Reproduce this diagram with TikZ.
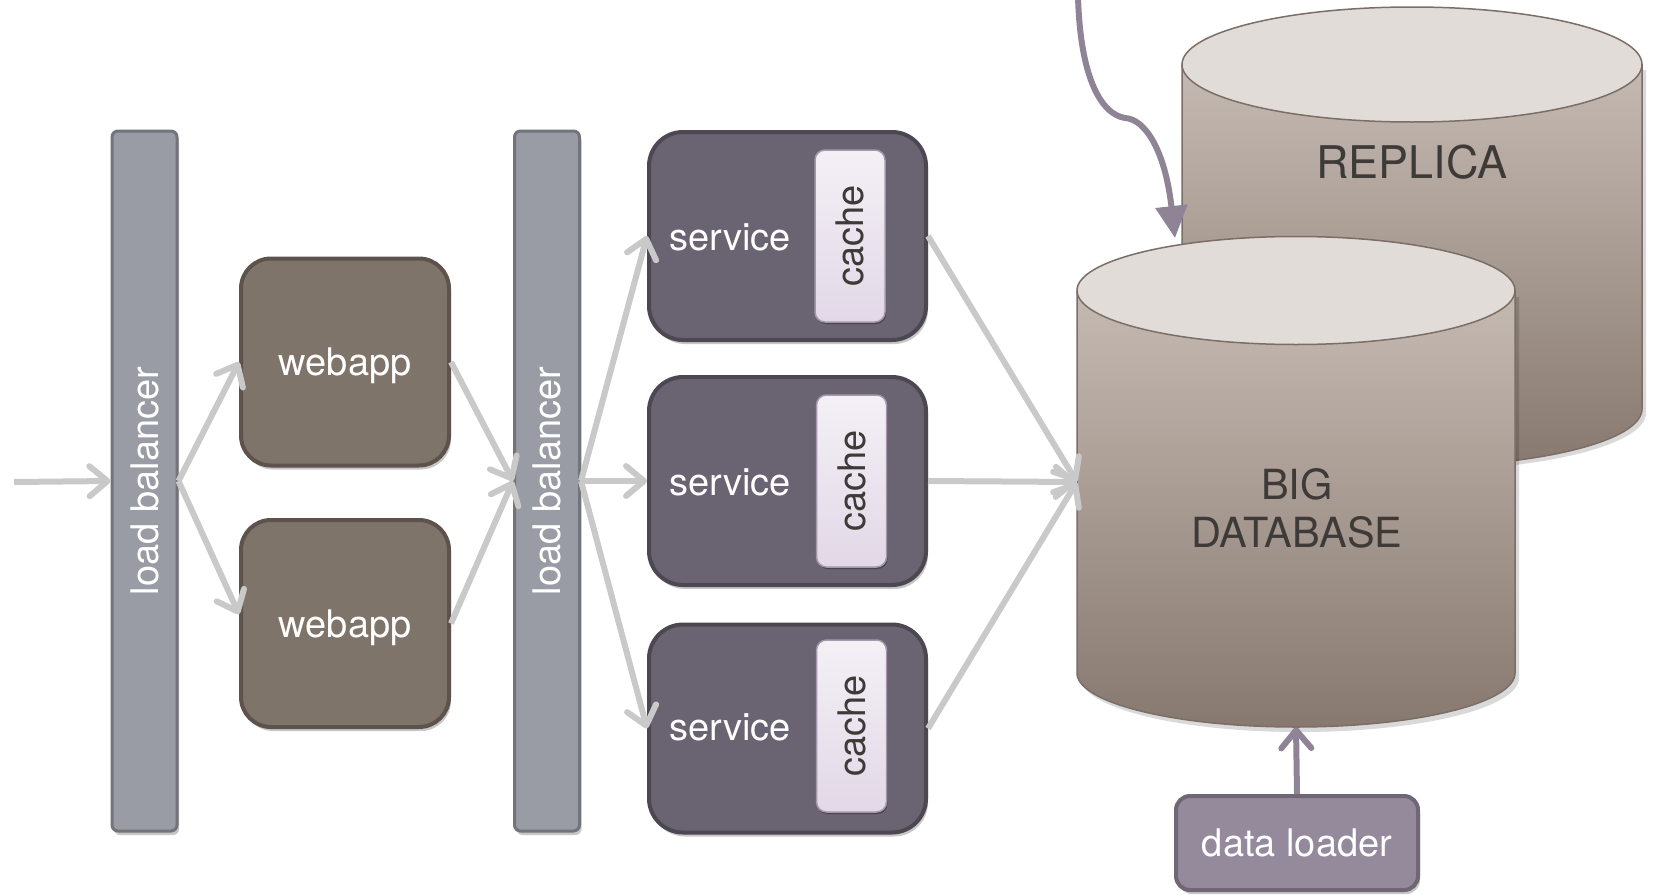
\documentclass[tikz,border=0pt]{standalone}
\usepackage{fontspec}
\setmainfont{TeX Gyre Heros}
\usepackage{graphicx}
\usetikzlibrary{arrows.meta,shadows}
\definecolor{agrey}{HTML}{C9C9C9}
\definecolor{apurple}{HTML}{8E8496}
\definecolor{lbfill}{HTML}{999CA4}
\definecolor{lbborder}{HTML}{727479}
\definecolor{wafill}{HTML}{7F7469}
\definecolor{waborder}{HTML}{5D534C}
\definecolor{svfill}{HTML}{6A6372}
\definecolor{svborder}{HTML}{4D4752}
\definecolor{cachetop}{HTML}{F4F0F6}
\definecolor{cachebot}{HTML}{E2D8E7}
\definecolor{cacheborder}{HTML}{A498AA}
\definecolor{dlfill}{HTML}{948A9B}
\definecolor{dlborder}{HTML}{6F6874}
\definecolor{cyltop}{HTML}{E2DCD8}
\definecolor{cylhi}{HTML}{C5BAB2}
\definecolor{cyllo}{HTML}{877970}
\definecolor{cylborder}{HTML}{7A6E66}
\definecolor{darktext}{HTML}{3D3A38}
\begin{document}
\begin{tikzpicture}[x=1pt,y=-1pt,
  txt/.style={font=\fontsize{38pt}{44pt}\selectfont},
  shad/.style={drop shadow={shadow xshift=2pt,shadow yshift=-4pt,opacity=0.22,fill=black}},
  lbbox/.style={draw=lbborder,fill=lbfill,line width=3pt,rounded corners=6pt,
    minimum width=65pt,minimum height=700pt,inner sep=0pt,text=white,txt,shad},
  wabox/.style={draw=waborder,fill=wafill,line width=4pt,rounded corners=30pt,
    minimum width=208pt,minimum height=207pt,inner sep=0pt,text=white,txt,text depth=0pt,shad},
  svbox/.style={draw=svborder,fill=svfill,line width=4pt,rounded corners=34pt,
    minimum width=277pt,minimum height=208pt,inner sep=0pt,shad},
  cachebox/.style={draw=cacheborder,top color=cachetop,bottom color=cachebot,line width=1.5pt,
    rounded corners=10pt,minimum width=70pt,minimum height=172pt,inner sep=0pt,text=darktext,txt,
    drop shadow={shadow xshift=1pt,shadow yshift=-2pt,opacity=0.3,fill=black}},
  svtext/.style={text=white,txt,inner sep=0pt},
  dlbox/.style={draw=dlborder,fill=dlfill,line width=4pt,rounded corners=14pt,
    minimum width=242pt,minimum height=94pt,inner sep=0pt,text=white,txt,shad},
  garrow/.style={draw=agrey,line width=6pt,-{Straight Barb[length=18pt,width=30pt,round]}},
  parrow/.style={draw=apurple,line width=6pt,-{Straight Barb[length=18pt,width=30pt,round]}},
  ptriarrow/.style={draw=apurple,line width=6pt,-{Triangle[length=32pt,width=31pt]}},
  cylbody/.style={draw=cylborder,line width=1.5pt,top color=cylhi,bottom color=cyllo},
  cyltopst/.style={draw=cylborder,line width=1.5pt,fill=cyltop},
  dbtext/.style={text=darktext,align=center,inner sep=0pt}
]
\useasboundingbox (0,0) rectangle (1653,894);

% ---------- replica cylinder ----------
\fill[black,opacity=0.15] (1186,70) -- (1186,413) .. controls (1186,444.8) and (1289,470.5) .. (1416,470.5)
  .. controls (1543,470.5) and (1646,444.8) .. (1646,413) -- (1646,70) -- cycle;
\path[cylbody] (1182,64.5) -- (1182,409) .. controls (1182,440.8) and (1285,466.5) .. (1412,466.5)
  .. controls (1539,466.5) and (1642,440.8) .. (1642,409) -- (1642,64.5) -- cycle;
\path[cyltopst] (1412,64.5) ellipse [x radius=230pt,y radius=57.5pt];
\node[dbtext,font=\fontsize{45pt}{52pt}\selectfont] (rep) at (1412,162) {REPLICA};

% ---------- feed arrow into database ----------
\coordinate (feed) at (1078,-4);
\coordinate (dbin) at (1175,238);
\draw[ptriarrow] (feed) .. controls (1080,75) and (1100,114) .. (1125,118)
  .. controls (1145,119) and (1165,150) .. (dbin);

% ---------- big database cylinder ----------
\fill[black,opacity=0.15] (1081,297) -- (1081,678) .. controls (1081,707.8) and (1179,732) .. (1300,732)
  .. controls (1421,732) and (1519,707.8) .. (1519,678) -- (1519,297) -- cycle;
\path[cylbody] (1077,291) -- (1077,673) .. controls (1077,702.8) and (1175,727) .. (1296,727)
  .. controls (1417,727) and (1515,702.8) .. (1515,673) -- (1515,291) -- cycle;
\path[cyltopst] (1296,290.5) ellipse [x radius=219pt,y radius=54pt];
\node[minimum width=438pt,minimum height=490pt,inner sep=0pt] (db) at (1296,482) {};
\node[dbtext,font=\fontsize{41.5pt}{48pt}\selectfont] (dbt) at (1297,508) {BIG\\DATABASE};

% ---------- load balancers ----------
\node[lbbox] (lb1) at (144.5,481) {\rotatebox{90}{load balancer}};
\node[lbbox] (lb2) at (547,481) {\rotatebox{90}{load balancer}};

% ---------- webapps ----------
\node[wabox] (wa1) at (345,362) {webapp};
\node[wabox] (wa2) at (345,623.5) {webapp};

% ---------- services ----------
\node[svbox] (s1) at (787.5,236) {};
\node[svbox] (s2) at (787.5,481) {};
\node[svbox] (s3) at (787.5,728.5) {};
\node[svtext] (s1t) at (730,237) {service};
\node[svtext] (s2t) at (730,482) {service};
\node[svtext] (s3t) at (730,727) {service};
\node[cachebox] (c1) at (850,236) {\rotatebox{90}{cache}};
\node[cachebox] (c2) at (851.5,481) {\rotatebox{90}{cache}};
\node[cachebox] (c3) at (851.5,726) {\rotatebox{90}{cache}};

% ---------- data loader ----------
\node[dlbox] (dl) at (1297,843) {data loader};

% ---------- connectors ----------
\coordinate (in) at (14,482);
\draw[garrow] (in) -- (lb1.west);
\draw[garrow] (lb1.east) -- (wa1.west);
\draw[garrow] (lb1.east) -- (wa2.175);
\draw[garrow] (wa1.east) -- (lb2.west);
\draw[garrow] (wa2.east) -- (lb2.west);
\draw[garrow] (lb2.east) -- (s1.west);
\draw[garrow] (lb2.east) -- (s2.west);
\draw[garrow] (lb2.east) -- (s3.west);
\draw[garrow] (s1.east) -- (db.west);
\draw[garrow] (s2.east) -- (db.west);
\draw[garrow] (s3.east) -- (db.west);
\draw[parrow] (dl.north) -- (db.south);
\end{tikzpicture}
\end{document}
